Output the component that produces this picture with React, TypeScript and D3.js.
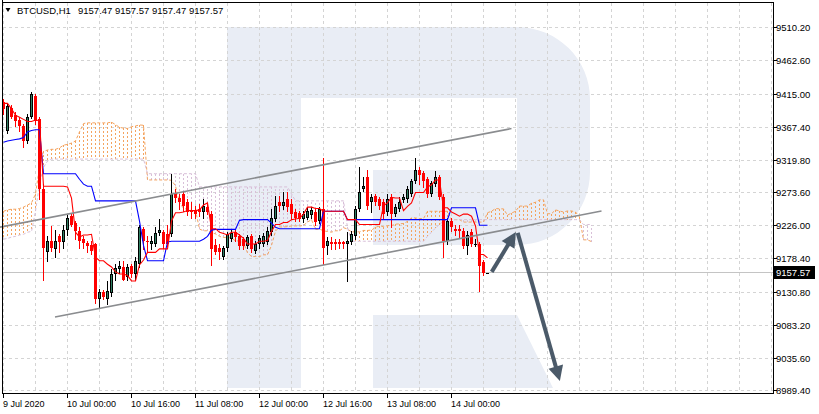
import React from 'react';
import * as d3 from 'd3';

// ---------- data ----------
const priceTicks = [9510.2, 9462.6, 9415.0, 9367.4, 9319.8, 9273.6, 9226.0, 9178.4, 9130.8, 9083.2, 9035.6, 8989.4];
const timeTickBars = [0, 16, 32, 48, 64, 80, 96, 112];
const timeTickLabels = ['9 Jul 2020', '10 Jul 00:00', '10 Jul 16:00', '11 Jul 08:00', '12 Jul 00:00', '12 Jul 16:00', '13 Jul 08:00', '14 Jul 00:00'];

const open = [
  9403, 9361, 9395, 9384, 9377, 9368, 9347, 9382, 9411, 9378,
  9278, 9187, 9204, 9192, 9210, 9202, 9219, 9239, 9229, 9217,
  9206, 9200, 9197, 9199, 9120, 9130, 9120, 9128, 9156, 9163,
  9166, 9151, 9167, 9156, 9171, 9220, 9204, 9199, 9199, 9215,
  9216, 9213, 9213, 9272, 9265, 9271, 9259, 9248, 9246, 9249,
  9245, 9252, 9242, 9197, 9194, 9181, 9194, 9206, 9216, 9210,
  9206, 9196, 9210, 9189, 9199, 9199, 9202, 9216, 9235, 9259,
  9253, 9263, 9256, 9245, 9243, 9235, 9237, 9240, 9245, 9232,
  9249, 9196, 9202, 9202, 9202, 9202, 9199, 9202, 9210, 9249,
  9278, 9295, 9259, 9268, 9263, 9259, 9245, 9266, 9242, 9249,
  9262, 9263, 9271, 9289, 9306, 9301, 9292, 9271, 9285, 9295,
  9266, 9203, 9232, 9220, 9220, 9217, 9196, 9216, 9199, 9199,
  9173, 9157.47,
];
const high = [
  9407, 9401, 9398, 9388, 9382, 9372, 9385, 9418, 9414, 9381,
  9285, 9210, 9225, 9219, 9213, 9227, 9240, 9243, 9232, 9223,
  9210, 9204, 9203, 9200, 9134, 9133, 9146, 9163, 9171, 9174,
  9174, 9171, 9171, 9180, 9226, 9223, 9210, 9210, 9223, 9235,
  9219, 9227, 9299, 9278, 9271, 9273, 9263, 9259, 9253, 9256,
  9263, 9256, 9246, 9206, 9199, 9196, 9216, 9220, 9219, 9213,
  9209, 9212, 9213, 9203, 9212, 9215, 9223, 9249, 9268, 9268,
  9273, 9273, 9263, 9249, 9246, 9246, 9252, 9252, 9249, 9252,
  9322, 9209, 9209, 9206, 9206, 9204, 9216, 9217, 9253, 9309,
  9295, 9306, 9271, 9271, 9266, 9263, 9271, 9271, 9256, 9266,
  9271, 9282, 9292, 9322, 9309, 9304, 9295, 9289, 9304, 9298,
  9271, 9237, 9237, 9226, 9226, 9222, 9217, 9220, 9206, 9202,
  9176, 9157.57,
];
const low = [
  9385, 9358, 9380, 9368, 9362, 9338, 9344, 9380, 9371, 9263,
  9148, 9174, 9189, 9181, 9187, 9194, 9212, 9225, 9206, 9194,
  9194, 9187, 9184, 9115, 9108, 9120, 9113, 9125, 9148, 9157,
  9147, 9148, 9151, 9148, 9166, 9192, 9189, 9192, 9196, 9212,
  9194, 9196, 9210, 9259, 9249, 9246, 9240, 9237, 9237, 9239,
  9237, 9242, 9169, 9184, 9177, 9177, 9189, 9203, 9204, 9192,
  9192, 9193, 9187, 9186, 9194, 9196, 9199, 9212, 9232, 9246,
  9249, 9246, 9235, 9232, 9232, 9230, 9235, 9237, 9227, 9229,
  9170, 9184, 9192, 9192, 9194, 9193, 9146, 9199, 9206, 9246,
  9275, 9249, 9245, 9255, 9249, 9237, 9240, 9223, 9239, 9246,
  9259, 9260, 9268, 9286, 9285, 9281, 9266, 9268, 9282, 9263,
  9180, 9199, 9217, 9212, 9209, 9193, 9184, 9196, 9196, 9131,
  9154, 9157.47,
];
const close = [
  9393, 9397, 9382, 9375, 9368, 9347, 9382, 9415, 9375, 9278,
  9194, 9203, 9194, 9204, 9202, 9219, 9237, 9227, 9217, 9203,
  9200, 9196, 9189, 9120, 9130, 9123, 9131, 9156, 9164, 9167,
  9148, 9166, 9156, 9174, 9223, 9204, 9203, 9203, 9215, 9219,
  9199, 9199, 9271, 9265, 9259, 9253, 9245, 9245, 9242, 9245,
  9253, 9245, 9192, 9187, 9187, 9194, 9213, 9215, 9209, 9196,
  9196, 9209, 9192, 9199, 9207, 9210, 9217, 9237, 9253, 9253,
  9260, 9252, 9242, 9237, 9235, 9242, 9246, 9248, 9230, 9249,
  9194, 9203, 9199, 9199, 9199, 9199, 9203, 9213, 9249, 9273,
  9283, 9253, 9266, 9259, 9253, 9242, 9263, 9242, 9252, 9260,
  9266, 9278, 9289, 9306, 9298, 9289, 9271, 9286, 9295, 9266,
  9203, 9232, 9223, 9217, 9217, 9196, 9212, 9199, 9199, 9167,
  9158, 9157.57,
];

const tenkan = [
  9401, 9401, 9393, 9384, 9381, 9378, 9375, 9375, 9377, 9376,
  9282, 9282, 9282, 9282, 9282, 9282, 9281, 9265, 9216, 9209,
  9212, 9212, 9213, 9180, 9175, 9175, 9170, 9166, 9159, 9156,
  9156, 9154, 9146, 9146, 9169, 9176, 9187, 9187, 9187, 9192,
  9192, 9192, 9232, 9244, 9244, 9245, 9247, 9247, 9247, 9248,
  9255, 9258, 9221, 9221, 9216, 9214, 9212, 9216, 9216, 9212,
  9207, 9199, 9199, 9199, 9203, 9203, 9204, 9217, 9227, 9227,
  9230, 9230, 9234, 9235, 9236, 9242, 9252, 9252, 9250, 9250,
  9246, 9246, 9246, 9246, 9246, 9246, 9234, 9234, 9234, 9227,
  9227, 9227, 9227, 9227, 9227, 9254, 9258, 9266, 9265, 9265,
  9247, 9253, 9258, 9273, 9273, 9273, 9281, 9284, 9291, 9291,
  9251, 9251, 9245, 9242, 9239, 9242, 9242, 9239, 9225, 9184,
  9184, 9179,
];
const kijun = [
  9345, 9347, 9348, 9349, 9350, 9352, 9360, 9362, 9363, 9363,
  9300, 9300, 9300, 9300, 9300, 9300, 9300, 9300, 9300, 9292,
  9285, 9282, 9282, 9261, 9261, 9261, 9261, 9261, 9261, 9261,
  9261, 9261, 9261, 9261, 9232, 9197, 9175, 9175, 9175, 9175,
  9175, 9202, 9203, 9203, 9203, 9203, 9203, 9203, 9203, 9203,
  9206, 9210, 9219, 9220, 9220, 9220, 9220, 9220, 9220, 9233,
  9234, 9234, 9234, 9234, 9234, 9234, 9234, 9229, 9223, 9221,
  9221, 9221, 9221, 9221, 9221, 9221, 9221, 9221, 9221, 9221,
  9246, 9246, 9246, 9246, 9246, 9246, 9234, 9234, 9234, 9234,
  9234, 9234, 9234, 9234, 9234, 9234, 9234, 9234, 9234, 9234,
  9234, 9234, 9234, 9234, 9234, 9234, 9234, 9234, 9234, 9234,
  9234, 9234, 9251, 9251, 9251, 9251, 9251, 9251, 9251, 9226,
  9226, 9226,
];
const spanA = [
  9246, 9248, 9249, 9249, 9250, 9252, 9255, 9258, 9271, 9309,
  9332, 9334, 9335, 9335, 9337, 9341, 9342, 9344, 9347, 9360,
  9372, 9373, 9373, 9373, 9373, 9373, 9373, 9374, 9370.5, 9366.5,
  9365.5, 9365, 9367.5, 9368.5, 9370, 9369.5, 9291, 9291, 9291, 9291,
  9291, 9291, 9290.5, 9282.5, 9258, 9250.5, 9248.5, 9247, 9247.5, 9220.5,
  9218, 9218, 9215.5, 9213.5, 9210, 9208.5, 9208.5, 9207.5, 9203.5, 9203.5,
  9200.5, 9186.5, 9181, 9181, 9181, 9183.5, 9183.5, 9197, 9217.5, 9223.5,
  9223.5, 9224, 9225, 9225, 9225, 9225.5, 9230.5, 9234, 9220, 9220.5,
  9218, 9217, 9216, 9218, 9218, 9222.5, 9220.5, 9216.5, 9216.5, 9216.5,
  9218.5, 9218.5, 9219, 9223, 9225, 9224, 9225.5, 9225.5, 9227.5, 9228,
  9228.5, 9231.5, 9236.5, 9236.5, 9235.5, 9235.5, 9246, 9246, 9246, 9246,
  9246, 9246, 9234, 9234, 9234, 9230.5, 9230.5, 9230.5, 9230.5, 9230.5,
  9230.5, 9244, 9246, 9250, 9249.5, 9249.5, 9240.5, 9243.5, 9246, 9253.5,
  9253.5, 9253.5, 9257.5, 9259, 9262.5, 9262.5, 9242.5, 9242.5, 9248, 9246.5,
  9245, 9246.5, 9246.5, 9245, 9238, 9205, 9205, 9202.5,
];
const spanB = [
  9206, 9207, 9209, 9210, 9212, 9213, 9216, 9217, 9246, 9285,
  9309, 9318, 9321, 9321, 9321, 9321, 9321, 9321, 9321, 9321,
  9321, 9321, 9321, 9321, 9321, 9321, 9321, 9321, 9321, 9321,
  9321, 9321, 9321, 9321, 9321, 9321, 9300, 9300, 9300, 9300,
  9300, 9300, 9300, 9300, 9300, 9300, 9300, 9300, 9300, 9281,
  9281, 9281, 9281, 9281, 9281, 9281, 9281, 9281, 9281, 9281,
  9281, 9281, 9281, 9281, 9281, 9281, 9281, 9281, 9281, 9281,
  9281, 9281, 9271, 9261, 9261, 9261, 9261, 9261, 9261, 9261,
  9261, 9261, 9261, 9261, 9261, 9261, 9223, 9203, 9203, 9203,
  9203, 9203, 9203, 9203, 9203, 9203, 9203, 9203, 9203, 9203,
  9203, 9203, 9203, 9203, 9203, 9203, 9210, 9216, 9222, 9227,
  9232, 9234, 9234, 9234, 9234, 9234, 9234, 9234, 9234, 9234,
  9234, 9234, 9234, 9234, 9234, 9234, 9234, 9234, 9234, 9234,
  9234, 9234, 9234, 9234, 9234, 9234, 9234, 9234, 9234, 9234,
  9234, 9234, 9234, 9234, 9234, 9227, 9227, 9227,
];

const lastPrice = 9157.57;
const headerSymbol = 'BTCUSD,H1';
const headerOHLC = '9157.47 9157.57 9157.47 9157.57';

// annotations in (bar index, price)
const channelUpper: [number, number][] = [[-0.875, 9223.3], [127, 9364.8]];
const channelLower: [number, number][] = [[12.875, 9094.1], [149.5, 9246.3]];
const arrowUp: [number, number][] = [[122.05, 9159.0], [128.1, 9216.2]];
const arrowDown: [number, number][] = [[128.55, 9215.0], [139.1, 9002.2]];

// ---------- styles ----------
const FONT = "'Liberation Sans', Arial, sans-serif";
const BULL_FILL = '#2f7f62';
const BEAR = '#ff0000';
const GRID = '#d4d4d4';
const SANDY = '#f4a460';
const THISTLE = '#d8bfd8';
const ARROW = '#4b5a69';
const LOGO = '#e9edf5';

export default function App() {
  const W = 819, H = 414;
  const left = 2.5, right = 773.5, top = 2.5, bottom = 393.5;
  const x = d3.scaleLinear().domain([0, 1]).range([3.5, 7.5]);
  const y = d3.scaleLinear().domain([8989.4, 9510.2]).range([390.0, 27.3]);

  const line = d3.line<number>().x((_, i) => x(i)).y((d) => y(d));

  const vGrid = d3.range(0, 25).map((i) => 3.5 + 32 * i);

  const arrow = (pts: [number, number][], key: string) => {
    const [a, b] = pts;
    const x1 = x(a[0]), y1 = y(a[1]), x2 = x(b[0]), y2 = y(b[1]);
    const dx = x2 - x1, dy = y2 - y1;
    const len = Math.hypot(dx, dy);
    const ux = dx / len, uy = dy / len;
    const hl = 15, hw = 7.5;
    const bx = x2 - ux * hl, by = y2 - uy * hl;
    const px = -uy, py = ux;
    return (
      <g key={key}>
        <line x1={x1} y1={y1} x2={bx + ux * 2} y2={by + uy * 2} stroke={ARROW} strokeWidth={4} />
        <polygon
          points={`${x2},${y2} ${bx + px * hw},${by + py * hw} ${bx - px * hw},${by - py * hw}`}
          fill={ARROW}
        />
      </g>
    );
  };

  const ly = y(lastPrice);
  const lyPix = Math.floor(ly) + 0.5;

  return (
    <svg
      width={W}
      height={H}
      viewBox={`0 0 ${W} ${H}`}
      style={{ position: 'absolute', left: 0, top: 0, display: 'block' }}
      fontFamily={FONT}
    >
      <rect x={0} y={0} width={W} height={H} fill="#ffffff" />

      {/* watermark logo */}
      <path
        d="M227,27 H517 A73,72 0 0 1 590,99 V172 A73,73 0 0 1 517,245 H373 V170 H517 V98 H301 V388 H227 Z"
        fill={LOGO}
      />
      <path d="M373,315 H517 L553,388 H373 Z" fill={LOGO} />

      {/* grid */}
      <g stroke={GRID} strokeWidth={1} strokeDasharray="3,3" shapeRendering="crispEdges">
        {vGrid.map((gx, i) => (
          <line key={'vg' + i} x1={gx} x2={gx} y1={top} y2={bottom} />
        ))}
        {priceTicks.map((p, i) => {
          const gy = Math.round(y(p)) + 0.5;
          return <line key={'hg' + i} x1={left} x2={right} y1={gy} y2={gy} />;
        })}
      </g>

      {/* kumo hatch */}
      <g strokeWidth={1} strokeDasharray="2,2" shapeRendering="crispEdges">
        {spanA.map((a, i) => {
          const b = spanB[i];
          return (
            <line
              key={'k' + i}
              x1={x(i)}
              x2={x(i)}
              y1={Math.round(y(a))}
              y2={Math.round(y(b))}
              stroke={a >= b ? SANDY : THISTLE}
            />
          );
        })}
      </g>
      <path d={line(spanA) || ''} fill="none" stroke={SANDY} strokeWidth={1} strokeDasharray="3,2" />
      <path d={line(spanB) || ''} fill="none" stroke={THISTLE} strokeWidth={1} strokeDasharray="3,2" />

      {/* bid line */}
      <line x1={left} x2={right} y1={lyPix} y2={lyPix} stroke="#c4c4c4" strokeWidth={1} shapeRendering="crispEdges" />

      {/* candles */}
      <g shapeRendering="crispEdges">
        {open.map((o, i) => {
          const c = close[i];
          const cx = x(i);
          const yH = Math.round(y(high[i]));
          const yL = Math.round(y(low[i]));
          const t = Math.round(Math.min(y(o), y(c)));
          const b = Math.round(Math.max(y(o), y(c)));
          if (c > o) {
            return (
              <g key={'c' + i}>
                <line x1={cx} x2={cx} y1={yH} y2={yL + 1} stroke="#000" />
                {b - t >= 2 ? (
                  <rect x={cx - 1} y={t + 0.5} width={2} height={b - t - 1} fill={BULL_FILL} stroke="#000" />
                ) : (
                  <rect x={cx - 1.5} y={t} width={3} height={Math.max(1, b - t)} fill="#000" />
                )}
              </g>
            );
          }
          if (c === o) {
            return (
              <g key={'c' + i}>
                <line x1={cx} x2={cx} y1={yH} y2={yL + 1} stroke="#000" />
                <rect x={cx - 1.5} y={t} width={3} height={1} fill="#000" />
              </g>
            );
          }
          return (
            <g key={'c' + i}>
              <line x1={cx} x2={cx} y1={yH} y2={yL + 1} stroke={BEAR} />
              <rect x={cx - 1.5} y={t} width={3} height={Math.max(1, b - t)} fill={BEAR} />
            </g>
          );
        })}
      </g>

      {/* tenkan / kijun */}
      <path d={line(kijun) || ''} fill="none" stroke="#0000ff" strokeWidth={1.1} />
      <path d={line(tenkan) || ''} fill="none" stroke="#ff0000" strokeWidth={1.1} />

      {/* channel */}
      {[channelUpper, channelLower].map((c, i) => (
        <line
          key={'ch' + i}
          x1={x(c[0][0])}
          y1={y(c[0][1])}
          x2={x(c[1][0])}
          y2={y(c[1][1])}
          stroke="#8a8c8f"
          strokeWidth={1.6}
        />
      ))}

      {/* arrows */}
      {arrow(arrowUp, 'a1')}
      {arrow(arrowDown, 'a2')}

      {/* frame */}
      <g stroke="#000" strokeWidth={1} shapeRendering="crispEdges" fill="none">
        <line x1={left} x2={left} y1={0} y2={bottom} />
        <line x1={left} x2={right} y1={bottom} y2={bottom} />
        <line x1={right} x2={right} y1={top} y2={bottom} />
        <line x1={left} x2={right} y1={top} y2={top} />
      </g>

      {/* price axis */}
      <g fontSize={9.5} fill="#000">
        {priceTicks.map((p, i) => {
          const ty = Math.round(y(p)) + 0.5;
          return (
            <g key={'pt' + i}>
              <line x1={right} x2={right + 3} y1={ty} y2={ty} stroke="#000" shapeRendering="crispEdges" />
              <text x={776} y={ty + 3.5}>
                {d3.format('.2f')(p)}
              </text>
            </g>
          );
        })}
        <rect x={774} y={lyPix - 6.5} width={41} height={13} fill="#000" />
        <text x={776} y={lyPix + 3.5} fill="#fff">
          {d3.format('.2f')(lastPrice)}
        </text>
      </g>

      {/* time axis */}
      <g fontSize={9} fill="#000">
        {timeTickBars.map((bi, i) => {
          const tx = x(bi);
          return (
            <g key={'tt' + i}>
              <line x1={tx} x2={tx} y1={bottom} y2={bottom + 4} stroke="#000" shapeRendering="crispEdges" />
              <text x={tx - 0.5} y={407}>
                {timeTickLabels[i]}
              </text>
            </g>
          );
        })}
      </g>

      {/* header */}
      <polygon points="5.5,8 10.5,8 8,12" fill="#000" />
      <text x={17} y={14} fontSize={9.5} fill="#000">
        {headerSymbol}
      </text>
      <text x={78} y={14} fontSize={9.5} fill="#000">
        {headerOHLC}
      </text>
    </svg>
  );
}
